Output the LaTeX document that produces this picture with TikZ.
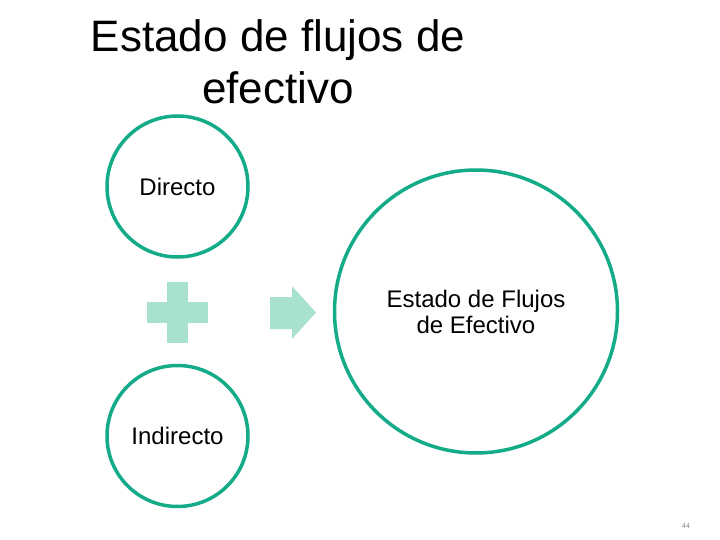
\documentclass[tikz,border=0pt]{standalone}
\usepackage{fontspec}
\setmainfont{Liberation Sans}
\usepackage{xcolor}
\definecolor{CircleTeal}{HTML}{14AB88}
\definecolor{SoftMint}{HTML}{A8E1CC}
\usepackage{tikz}

\begin{document}
\begin{tikzpicture}[x=1pt,y=-1pt,
  ring/.style={draw=CircleTeal,line width=3.5pt,circle,inner sep=0pt,align=center,font=\fontsize{24}{26}\selectfont},
  mint/.style={fill=SoftMint}
]
  \useasboundingbox (0,0) rectangle (720,540);
  \node[font=\fontsize{44}{52}\selectfont,align=center] (title) at (278,62) {Estado de flujos de\\efectivo};

  \node[ring,minimum size=141pt] (directo) at (177.5,186.5) {Directo};
  \node[ring,minimum size=141pt] (indirecto) at (177.5,436) {Indirecto};
  \node[ring,minimum size=283pt] (estado) at (476,311.5) {Estado de Flujos\\de Efectivo};

  % plus sign
  \fill[mint] (167,282) rectangle (188,343);
  \fill[mint] (147,302) rectangle (208,323);
  % arrow
  \fill[mint] (270,297) -- (292,297) -- (292,286) -- (316,312.5) -- (292,339) -- (292,329) -- (270,329) -- cycle;

  \node[font=\fontsize{7}{8}\selectfont,text=gray] (pagina) at (686,526) {44};
\end{tikzpicture}
\end{document}
